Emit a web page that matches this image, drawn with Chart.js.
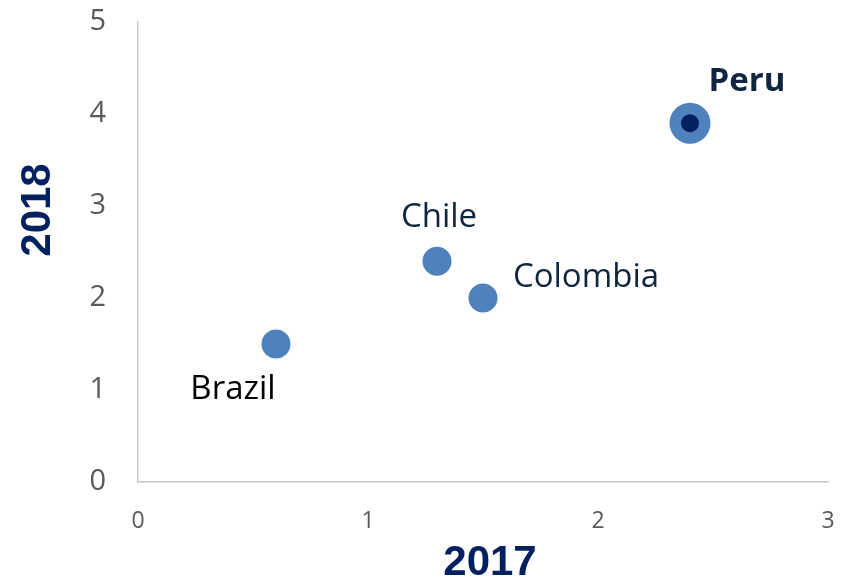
<!DOCTYPE html>
<html>
<head>
<meta charset="utf-8">
<script src="https://cdn.jsdelivr.net/npm/chart.js@4/dist/chart.umd.min.js"></script>
<style>
  html, body { margin: 0; padding: 0; background: #fff; }
  #wrap { width: 850px; height: 582px; }
</style>
</head>
<body>
<div id="wrap"><canvas id="chartScatter"></canvas></div>
<script>
// data
const countries = ["Brazil", "Chile", "Colombia", "Peru"];
const values2017 = [0.6, 1.3, 1.5, 2.4];
const values2018 = [1.5, 2.4, 2.0, 3.9];
const highlight = "Peru";
const xTicks = [0, 1, 2, 3];
const yTicks = [0, 1, 2, 3, 4, 5];

// label placement (offset from the point, in px) and look
const labelOffsets = [[-43, 46], [2, -44], [103, -20], [57, -42]];
const labelColors = ["#000000", "#10253f", "#10253f", "#10253f"];

const points = countries.map((c, i) => ({ x: values2017[i], y: values2018[i] }));
const hiIndex = countries.indexOf(highlight);

// draw the country names + axis titles
const labelsPlugin = {
    id: "countryLabels",
    afterDatasetsDraw(chart) {
        const { ctx, scales } = chart;
        ctx.save();
        ctx.textAlign = "center";
        ctx.textBaseline = "middle";
        countries.forEach((name, i) => {
            const px = scales.x.getPixelForValue(values2017[i]);
            const py = scales.y.getPixelForValue(values2018[i]);
            const bold = name === highlight;
            ctx.font = (bold ? "bold " : "") + "33px 'Open Sans'";
            ctx.fillStyle = labelColors[i];
            ctx.fillText(name, px + labelOffsets[i][0], py + labelOffsets[i][1]);
        });

        // axis titles
        ctx.fillStyle = "#002060";
        ctx.font = "bold 42px 'Liberation Sans'";
        ctx.fillText("2017", 490, 563);
        ctx.translate(38, 210);
        ctx.rotate(-Math.PI / 2);
        ctx.fillText("2018", 0, 0);
        ctx.restore();
    }
};

const chartScatter = new Chart(document.getElementById("chartScatter"), {
    type: "scatter",
    data: {
        datasets: [
            {
                label: "inner",
                data: [points[hiIndex]],
                pointRadius: 9,
                pointHoverRadius: 9,
                backgroundColor: "#002060",
                borderWidth: 0
            },
            {
                label: "2017 vs 2018",
                data: points,
                pointRadius: countries.map(c => c === highlight ? 20.5 : 14.5),
                pointHoverRadius: countries.map(c => c === highlight ? 20.5 : 14.5),
                backgroundColor: "#4f81bd",
                borderWidth: 0
            }
        ]
    },
    options: {
        responsive: true,
        maintainAspectRatio: false,
        animation: false,
        layout: { padding: { top: 22, right: 22, left: 0, bottom: 0 } },
        plugins: {
            legend: { display: false },
            tooltip: { enabled: false }
        },
        scales: {
            x: {
                type: "linear",
                min: 0,
                max: 3,
                afterBuildTicks: axis => { axis.ticks = xTicks.map(v => ({ value: v })); },
                afterFit: axis => {
                    axis.height = 100;
                    axis.paddingLeft = 0;
                    axis.paddingRight = 0;
                },
                grid: { display: false, drawTicks: false },
                border: { display: true, color: "#c8c8c8", width: 1.5 },
                ticks: {
                    padding: 26,
                    color: "#595959",
                    font: { family: "'Open Sans'", size: 23 }
                }
            },
            y: {
                type: "linear",
                min: 0,
                max: 5,
                afterBuildTicks: axis => { axis.ticks = yTicks.map(v => ({ value: v })); },
                afterFit: axis => {
                    axis.width = 138;
                    axis.paddingTop = 0;
                    axis.paddingBottom = 0;
                },
                grid: { display: false, drawTicks: false },
                border: { display: true, color: "#c8c8c8", width: 1.5 },
                ticks: {
                    padding: 32,
                    color: "#595959",
                    font: { family: "'Open Sans'", size: 29 }
                }
            }
        }
    },
    plugins: [labelsPlugin]
});
</script>
</body>
</html>
